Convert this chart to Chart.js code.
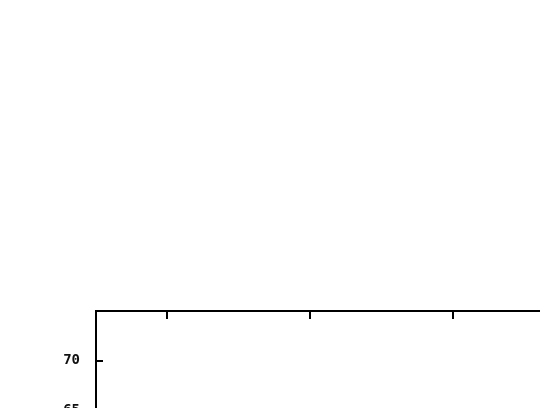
<!DOCTYPE html>
<html>
<head>
<meta charset="utf-8">
<script src="https://cdn.jsdelivr.net/npm/chart.js@4"></script>
<style>
  html, body { margin: 0; padding: 0; overflow: hidden; background: #fff; width: 540px; height: 408px; }
  canvas { position: absolute; left: 0; top: 0; }
</style>
</head>
<body>
<canvas id="myChart" width="620" height="700"></canvas>
<script>
// only the top edge of the plot is visible in the picture
const xTicks = [1, 2, 3, 4];
const yTicks = [40, 45, 50, 55, 60, 65, 70];
const seriesX = [1, 2, 3, 4];
const seriesY = [52, 48, 55, 50];

// short tick marks pointing into the plot
const innerTicks = {
  id: "innerTicks",
  afterDraw(chart) {
    const c = chart.ctx;
    const area = chart.chartArea;
    const x = chart.scales.x;
    const y = chart.scales.y;
    c.save();
    c.strokeStyle = "#000";
    c.lineWidth = 2;
    c.beginPath();
    xTicks.forEach((v) => {
      const px = Math.round(x.getPixelForValue(v));
      c.moveTo(px, area.top);
      c.lineTo(px, area.top + 8);
    });
    yTicks.forEach((v) => {
      const py = Math.round(y.getPixelForValue(v));
      c.moveTo(area.left, py);
      c.lineTo(area.left + 7, py);
    });
    c.stroke();
    c.restore();
  },
};

new Chart(document.getElementById("myChart"), {
  type: "line",
  data: {
    datasets: [
      {
        data: seriesX.map((v, i) => ({ x: v, y: seriesY[i] })),
        borderColor: "#000",
        borderWidth: 1,
        pointRadius: 0,
      },
    ],
  },
  options: {
    responsive: false,
    devicePixelRatio: 1,
    animation: false,
    layout: { padding: { top: 311, right: 10, left: 0, bottom: 40 } },
    plugins: { legend: { display: false }, tooltip: { enabled: false } },
    scales: {
      x: {
        type: "linear",
        position: "top",
        min: 0.5,
        max: 4.1,
        afterFit: (s) => { s.height = 0; },
        afterBuildTicks: (s) => { s.ticks = xTicks.map((v) => ({ value: v })); },
        ticks: { display: false },
        grid: { display: false },
        border: { display: true, color: "#000", width: 2 },
      },
      y: {
        min: 40,
        max: 75,
        afterFit: (s) => { s.width = 96; },
        afterBuildTicks: (s) => { s.ticks = yTicks.map((v) => ({ value: v })); },
        ticks: {
          color: "#111",
          padding: 16,
          font: { family: "DejaVu Sans Mono", size: 14, weight: "bold" },
        },
        grid: { display: false, drawTicks: false },
        border: { display: true, color: "#000", width: 2 },
      },
    },
  },
  plugins: [innerTicks],
});
</script>
</body>
</html>
